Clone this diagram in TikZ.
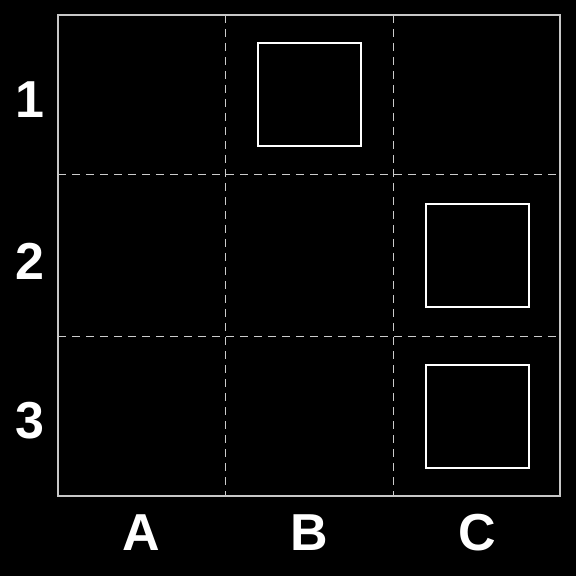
\documentclass[tikz,border=0pt]{standalone}
\usepackage{fontspec}
\setmainfont{Liberation Sans}
\usetikzlibrary{calc}
\tikzstyle{cell}=[rectangle,draw=white,line width=1pt,minimum size=51.5pt,inner sep=0pt]
\tikzstyle{gridline}=[draw=white!80!black,line width=0.5pt,dash pattern=on 4pt off 3pt]
\tikzstyle{frame}=[draw=white!78!black,line width=0.8pt]
\tikzstyle{heading}=[text=white,font=\fontsize{26}{30}\selectfont\bfseries]

\begin{document}
\begin{tikzpicture}[x=0.5pt,y=-0.5pt]
   \fill[black] (0,0) rectangle (576,576);
   \useasboundingbox (0,0) rectangle (576,576);

%grid
   \draw[gridline] (225,15) -- (225,496);
   \draw[gridline] (393,15) -- (393,496);
   \draw[gridline] (58,175) -- (560,175);
   \draw[gridline] (58,336) -- (560,336);
   \draw[frame] (58,15) rectangle (560,496);

%boxes
    \foreach \pos/ \name in {{(309.5,94.5)/b1}, {(477.5,255.5)/c2}, {(477.5,416.5)/c3}}
    	\node[cell] (\name) at \pos {};

% Label
    \foreach \pos/ \name/ \label in {{(30,100)/r1/1}, {(30,261)/r2/2}, {(30,421)/r3/3}}
    	\node[heading] (\name) at \pos {\label};
    \foreach \pos/ \name/ \label in {{(141,533)/ca/A}, {(309,533)/cb/B}, {(477,533)/cc/C}}
    	\node[heading] (\name) at \pos {\label};

\end{tikzpicture}
\end{document}
